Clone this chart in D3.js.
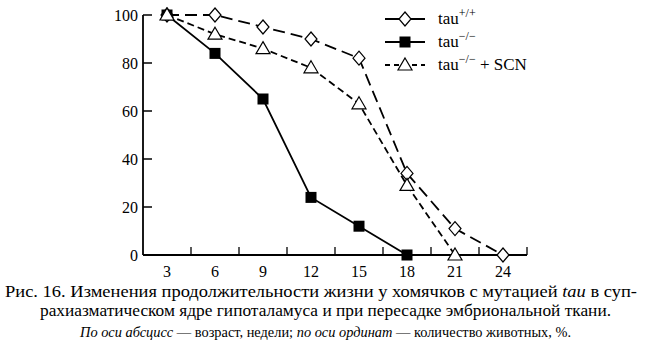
<!DOCTYPE html>
<html><head><meta charset="utf-8">
<script src="https://cdn.jsdelivr.net/npm/d3@7"></script>
<style>body{margin:0;background:#fff} svg text{font-family:"Liberation Serif","Times New Roman",Times,"DejaVu Serif",serif}</style>
</head><body>
<script>
const weeks = [3, 6, 9, 12, 15, 18, 21, 24];
const tauWT = [100, 100, 95, 90, 82, 34, 11, 0];
const tauKO = [100, 84, 65, 24, 12, 0];
const tauSCN = [100, 92, 86, 78, 63, 29, 0];
const yTicks = [0, 20, 40, 60, 80, 100];
const legendSup = ["+/+", "\u2212/\u2212", "\u2212/\u2212"];
const legendExtra = ["", "", " + SCN"];

const W = 651, H = 362;
const svg = d3.select("body").append("svg").attr("width", W).attr("height", H);

const x = d3.scaleLinear().domain([1.5, 25.5]).range([143, 527]);
const y = d3.scaleLinear().domain([0, 100]).range([255, 15]);

// axes
const ax = svg.append("g").attr("stroke", "#000").attr("stroke-width", 1.8);
ax.append("line").attr("x1", x(1.5)).attr("x2", x(25.5)).attr("y1", y(0)).attr("y2", y(0));
ax.append("line").attr("x1", x(1.5)).attr("x2", x(1.5)).attr("y1", y(0)).attr("y2", y(100));
const xTickPos = weeks.map(w => w + 1.5);
ax.selectAll(".xt").data(xTickPos).enter().append("line")
  .attr("x1", d => x(d)).attr("x2", d => x(d)).attr("y1", y(0)).attr("y2", y(0) - 8).attr("stroke-width", 1.3);
ax.selectAll(".yt").data(yTicks.slice(1)).enter().append("line")
  .attr("x1", x(1.5)).attr("x2", x(1.5) + 9).attr("y1", d => y(d)).attr("y2", d => y(d)).attr("stroke-width", 1.5);

svg.selectAll(".xl").data(weeks).enter().append("text")
  .attr("x", d => x(d)).attr("y", 277).attr("text-anchor", "middle")
  .attr("font-size", 16).text(d => d);
svg.selectAll(".yl").data(yTicks).enter().append("text")
  .attr("x", 138).attr("y", d => y(d) + 5.5).attr("text-anchor", "end")
  .attr("font-size", 16).text(d => d);

const series = [
  {vals: tauWT, dash: "12,6", marker: "diamond"},
  {vals: tauKO, dash: null, marker: "square"},
  {vals: tauSCN, dash: "7,4", marker: "triangle"}
];
const line = d3.line().x(d => x(d[0])).y(d => y(d[1]));

function marker(g, type, cx, cy) {
  if (type === "diamond") {
    g.append("path").attr("d", `M${cx},${cy-7}L${cx+6},${cy}L${cx},${cy+7}L${cx-6},${cy}Z`)
      .attr("fill", "#fff").attr("stroke", "#000").attr("stroke-width", 1.2);
  } else if (type === "square") {
    g.append("rect").attr("x", cx - 5.5).attr("y", cy - 5.5).attr("width", 11).attr("height", 11)
      .attr("fill", "#000");
  } else {
    g.append("path").attr("d", `M${cx},${cy-7}L${cx+7},${cy+5}L${cx-7},${cy+5}Z`)
      .attr("fill", "#fff").attr("stroke", "#000").attr("stroke-width", 1.2);
  }
}

series.forEach(s => {
  const pts = s.vals.map((v, i) => [weeks[i], v]);
  svg.append("path").attr("d", line(pts)).attr("fill", "none").attr("stroke", "#000")
    .attr("stroke-width", 1.8).attr("stroke-dasharray", s.dash);
});
series.forEach(s => {
  const g = svg.append("g");
  s.vals.forEach((v, i) => marker(g, s.marker, x(weeks[i]), y(v)));
});

// legend
const legendDash = [null, null, "5,4"];
series.forEach((s, i) => {
  const ly = 19 + i * 23;
  svg.append("line").attr("x1", 385).attr("x2", 425).attr("y1", ly).attr("y2", ly)
    .attr("stroke", "#000").attr("stroke-width", 1.8).attr("stroke-dasharray", legendDash[i]);
  marker(svg.append("g"), s.marker, 405, ly);
  const t = svg.append("text").attr("x", 438).attr("y", ly + 5).attr("font-size", 17);
  t.append("tspan").text("tau");
  t.append("tspan").attr("dy", -7).attr("font-size", 12).text(legendSup[i]);
  t.append("tspan").attr("dy", 7).text(legendExtra[i]);
});

// caption
const c1 = svg.append("text").attr("x", 5).attr("y", 297).attr("font-size", 17)
  .attr("textLength", 632).attr("lengthAdjust", "spacingAndGlyphs");
c1.append("tspan").text("Рис. 16. Изменения продолжительности жизни у хомячков с мутацией ");
c1.append("tspan").attr("font-style", "italic").text("tau");
c1.append("tspan").text(" в суп-");
svg.append("text").attr("x", 40).attr("y", 316).attr("font-size", 17)
  .attr("textLength", 571).attr("lengthAdjust", "spacingAndGlyphs")
  .text("рахиазматическом ядре гипоталамуса и при пересадке эмбриональной ткани.");
const c3 = svg.append("text").attr("x", 80).attr("y", 337).attr("font-size", 15)
  .attr("textLength", 491).attr("lengthAdjust", "spacingAndGlyphs");
c3.append("tspan").attr("font-style", "italic").text("По оси абсцисс");
c3.append("tspan").text(" — возраст, недели; ");
c3.append("tspan").attr("font-style", "italic").text("по оси ординат");
c3.append("tspan").text(" — количество животных, %.");
</script>
</body></html>
